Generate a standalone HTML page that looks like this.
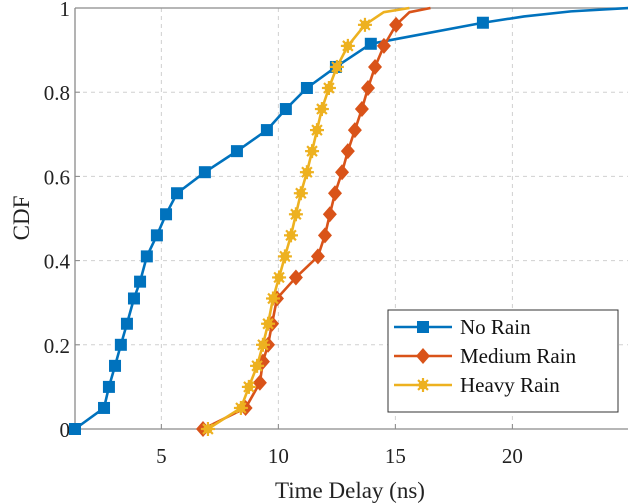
<!DOCTYPE html>
<html><head><meta charset="utf-8"><style>
body{margin:0;background:#fff;}
svg{display:block;font-family:"Liberation Serif",serif;}
</style></head><body>
<svg id="chart" width="628" height="504" viewBox="0 0 628 504" xmlns="http://www.w3.org/2000/svg"></svg>
<script>
const xTicks=[5,10,15,20];
const yTicks=[0,0.2,0.4,0.6,0.8,1];
const yTickLabels=["0","0.2","0.4","0.6","0.8","1"];
const noRainX=[1.31,2.55,2.76,3.02,3.27,3.53,3.83,4.09,4.38,4.81,5.2,5.67,6.86,8.23,9.51,10.32,11.22,12.46,13.95,18.74];
const noRainY=[0,0.05,0.1,0.15,0.2,0.25,0.31,0.35,0.41,0.46,0.51,0.56,0.61,0.66,0.71,0.76,0.81,0.86,0.915,0.965];
const noRainTailX=[15.5,16.5,18.0,18.74,20.5,22.5,25];
const noRainTailY=[0.93,0.945,0.958,0.965,0.98,0.992,1.0];
const medX=[6.78,8.6,9.21,9.34,9.56,9.73,9.94,10.75,11.69,11.99,12.2,12.42,12.72,12.97,13.27,13.57,13.83,14.13,14.51,15.03];
const medY=[0,0.05,0.11,0.16,0.2,0.25,0.31,0.36,0.41,0.46,0.51,0.56,0.61,0.66,0.71,0.76,0.81,0.86,0.91,0.96];
const medTailX=[15.03,15.6,16.5];
const medTailY=[0.96,0.99,1.0];
const heavyX=[6.99,8.4,8.74,9.09,9.34,9.56,9.77,10.03,10.28,10.54,10.75,10.96,11.22,11.44,11.65,11.86,12.16,12.5,12.97,13.7];
const heavyY=[0,0.05,0.1,0.15,0.2,0.25,0.31,0.36,0.41,0.46,0.51,0.56,0.61,0.66,0.71,0.76,0.81,0.86,0.91,0.96];
const heavyTailX=[13.7,14.5,15.6];
const heavyTailY=[0.96,0.99,1.0];

const NS="http://www.w3.org/2000/svg";
const svg=document.getElementById('chart');
const L=75,R=628,T=8,B=429,X0=1.31,X1=24.94;
const sx=v=>L+(v-X0)/(X1-X0)*(R-L);
const sy=v=>B-v*(B-T);
function mk(tag,attrs,parent){const e=document.createElementNS(NS,tag);for(const k in attrs)e.setAttribute(k,attrs[k]);(parent||svg).appendChild(e);return e;}

const grid=mk('g',{});


xTicks.forEach(t=>{const l=mk('line',{x1:sx(t),x2:sx(t),y1:T,y2:B,stroke:'#d0d0d0','stroke-dasharray':'4 4','stroke-width':1},grid);

});
yTicks.forEach(t=>{const l=mk('line',{x1:L,x2:R,y1:sy(t),y2:sy(t),stroke:'#d0d0d0','stroke-dasharray':'4 4','stroke-width':1},grid);

});

const axes=mk('path',{d:`M${L},${T}H${R}M${L},${T}V${B}H${R}`,stroke:'#8a8a8a','stroke-width':1.3,fill:'none'});



xTicks.forEach(t=>{mk('line',{x1:sx(t),x2:sx(t),y1:B,y2:B-5,stroke:'#8a8a8a'});
const tx=mk('text',{x:sx(t),y:B+34,'text-anchor':'middle','font-size':21,fill:'#222'});tx.textContent=t;

});
yTicks.forEach((t,i)=>{mk('line',{x1:L,x2:L+5,y1:sy(t),y2:sy(t),stroke:'#8a8a8a'});
const tx=mk('text',{x:L-5,y:sy(t)+8,'text-anchor':'end','font-size':21,fill:'#222'});tx.textContent=yTickLabels[i];

});

const xt=mk('text',{x:350,y:498,'text-anchor':'middle','font-size':23,fill:'#222'});xt.textContent='Time Delay (ns)';


const yt=mk('text',{x:0,y:0,'text-anchor':'middle','font-size':23,fill:'#222',transform:'translate(29,218) rotate(-90)'});yt.textContent='CDF';



function square(g,x,y,c){mk('rect',{x:x-6,y:y-6,width:12,height:12,fill:c},g);}
function diamond(g,x,y,c){mk('path',{d:`M${x},${y-8}L${x+7},${y}L${x},${y+8}L${x-7},${y}Z`,fill:c},g);}
function star(g,x,y,c){mk('circle',{cx:x,cy:y,r:4.5,fill:c},g);
for(let k=0;k<8;k++){const a=k*Math.PI/4;mk('line',{x1:x,y1:y,x2:x+7*Math.cos(a),y2:y+7*Math.sin(a),stroke:c,'stroke-width':2.2},g);}}

function series(name,xs,ys,txs,tys,c,marker){
const g=mk('g',{});


const pts=xs.map((x,i)=>[x,ys[i]]);
txs.forEach((x,i)=>{if(x>xs[xs.length-1])pts.push([x,tys[i]]);});
mk('polyline',{points:pts.map(p=>sx(p[0])+','+sy(p[1])).join(' '),fill:'none',stroke:c,'stroke-width':2.6,'stroke-linejoin':'round'},g);
xs.forEach((x,i)=>marker(g,sx(x),sy(ys[i]),c));}
series('series-no-rain',noRainX,noRainY,noRainTailX,noRainTailY,'#0072BD',square);
series('series-medium-rain',medX,medY,medTailX,medTailY,'#D95319',diamond);
series('series-heavy-rain',heavyX,heavyY,heavyTailX,heavyTailY,'#EDB120',star);

const lg=mk('g',{});


mk('rect',{x:388,y:310,width:230,height:102,fill:'#fff',stroke:'#333','stroke-width':1},lg);
const ents=[['No Rain','#0072BD',square],['Medium Rain','#D95319',diamond],['Heavy Rain','#EDB120',star]];
ents.forEach((e,i)=>{const y=327+i*29;
const eg=mk('g',{},lg);


mk('line',{x1:394,x2:452,y1:y,y2:y,stroke:e[1],'stroke-width':2.6},eg);
e[2](eg,423,y,e[1]);
const t=mk('text',{x:460,y:y+7,'font-size':21,fill:'#111'},eg);t.textContent=e[0];});
</script>
</body></html>
